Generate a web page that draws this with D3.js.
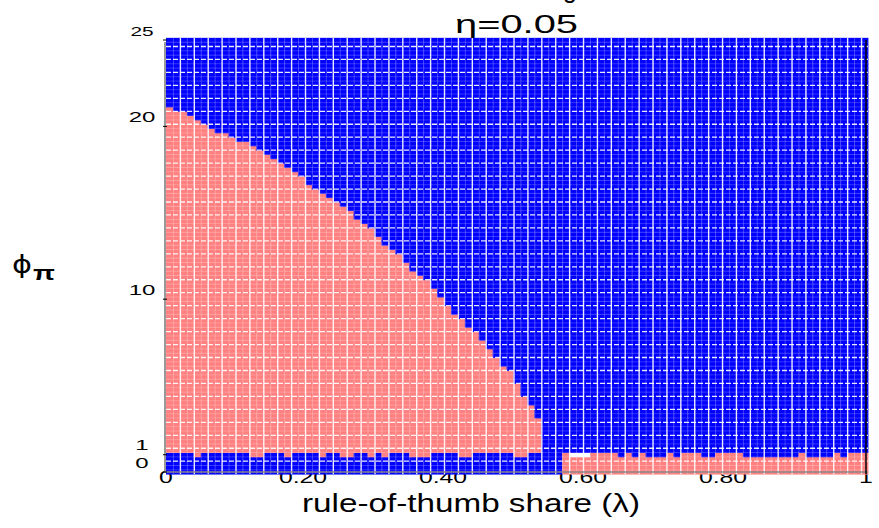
<!DOCTYPE html>
<html lang="en">
  <head>
    <meta charset="UTF-8" />
    <title>Determinacy region</title>
    <style>
      body { margin: 0; background: #fff; }
      text { font-family: "Liberation Sans", Arial, sans-serif; fill: #000; }
    </style>
  </head>
  <body>
    <div id="chart"></div>

<script src="https://cdn.jsdelivr.net/npm/d3@7/dist/d3.min.js"></script>
    <script>
    // grid of rule-of-thumb shares (columns)
    var lambdas = [0,0.01,0.02,0.03,0.04,0.05,0.06,0.07,0.08,0.09,
      0.10,0.11,0.12,0.13,0.14,0.15,0.16,0.17,0.18,0.19,
      0.20,0.21,0.22,0.23,0.24,0.25,0.26,0.27,0.28,0.29,
      0.30,0.31,0.32,0.33,0.34,0.35,0.36,0.37,0.38,0.39,
      0.40,0.41,0.42,0.43,0.44,0.45,0.46,0.47,0.48,0.49,
      0.50,0.51,0.52,0.53,0.54,0.55,0.56,0.57,0.58,0.59,
      0.60,0.61,0.62,0.63,0.64,0.65,0.66,0.67,0.68,0.69,
      0.70,0.71,0.72,0.73,0.74,0.75,0.76,0.77,0.78,0.79,
      0.80,0.81,0.82,0.83,0.84,0.85,0.86,0.87,0.88,0.89,
      0.90,0.91,0.92,0.93,0.94,0.95,0.96,0.97,0.98,0.99,1];

    // grid of phi_pi values (rows)
    var phis = [0,0.25,0.5,0.75,1,1.25,1.5,1.75,2,2.25,2.5,2.75,3,3.25,3.5,3.75,
      4,4.25,4.5,4.75,5,5.25,5.5,5.75,6,6.25,6.5,6.75,7,7.25,7.5,7.75,
      8,8.25,8.5,8.75,9,9.25,9.5,9.75,10,10.25,10.5,10.75,11,11.25,11.5,11.75,
      12,12.25,12.5,12.75,13,13.25,13.5,13.75,14,14.25,14.5,14.75,15,15.25,15.5,15.75,
      16,16.25,16.5,16.75,17,17.25,17.5,17.75,18,18.25,18.5,18.75,19,19.25,19.5,19.75,
      20,20.25,20.5,20.75,21,21.25,21.5,21.75,22,22.25,22.5,22.75,23,23.25,23.5,23.75,
      24,24.25,24.5,24.75,25];

    // upper edge of the pink region, lambda = 0 .. 0.53
    var pinkTop = [21.0,20.9,20.8,20.7,20.4,20.1,19.9,19.7,19.6,19.4,
      19.2,19.0,18.75,18.5,18.35,18.05,17.75,17.5,17.25,17.0,
      16.65,16.4,16.15,15.85,15.55,15.25,15.0,14.7,14.4,14.0,
      13.6,13.1,12.75,12.5,12.15,11.7,11.4,11.05,10.6,10.05,
      9.6,9.2,8.85,8.4,8.05,7.6,7.05,6.55,6.15,5.75,
      5.05,4.3,3.9,3.1];

    // top of the bottom band (phi_pi below ~1), one per lambda
    var bandTop = [1,1,1,1,0.75,1,1,1,1,1,
      1,1,0.75,0.75,1,1,1,0.75,1,1,
      1,1,0.75,1,1,0.75,0.75,1,1,0.75,
      1,0.75,1,1,1,0.75,0.75,0.75,1,1,
      1,1,0.75,0.75,1,1,1,1,1,1,
      0.75,0.75,1,1,1,1,1,1,1,1,
      1,1,1,1,1,0.75,1,0.75,1,0.75,
      0.75,0.75,1,0.75,1,1,1,0.75,0.75,1,
      1,1,1,0.75,0.75,0.75,0.75,0.75,0.75,0.75,
      0.75,1,0.75,0.75,0.75,0.75,1,0.75,1,1,
      1];
    var bandSwitch = 0.57;   // bottom band is blue left of this, pink right of it
    var blankCells = [[0.58,1],[0.59,1],[0.60,1]];

    var xTicks = [0,0.2,0.4,0.6,0.8,1];
    var xTickLabels = ["0","0.20","0.40","0.60","0.80","1"];
    var yTicks = [0,1,10,20,25];
    var yTickLabels = ["0","1","10","20","25"];

    var width = 879, height = 528;
    var blue = "#0000ff", pink = "#ff8080";

    var svg = d3.select("#chart").append("svg")
      .attr("width", width).attr("height", height);

    var xScale = d3.scaleLinear().domain([0,1]).range([166,866]);
    var xBand = d3.scaleBand().domain(lambdas).range([166,868]);
    var yScale = d3.scaleLinear().domain([0,25]).range([472,40]);
    var rowH = yScale(0) - yScale(0.25);

    function cellColor(k, j) {
      var l = lambdas[k], p = phis[j];
      for (var b = 0; b < blankCells.length; b++) {
        if (Math.abs(blankCells[b][0]-l) < 1e-6 && blankCells[b][1] == p) return "#ffffff";
      }
      if (p <= bandTop[k]) return l < bandSwitch - 1e-6 ? blue : pink;
      if (k < pinkTop.length && p <= pinkTop[k]) return pink;
      return blue;
    }

    // x tick labels sit partly under the cells
    svg.append("g").selectAll("text")
      .data(xTicks).enter().append("text")
      .attr("transform", function(d){ return "translate(" + (xScale(d) - (d>0 && d<1 ? 3 : 0)) + ",483) scale(1.55,1)"; })
      .attr("text-anchor", "middle")
      .style("font-size", "16px")
      .text(function(d,i){ return xTickLabels[i]; });

    var cells = [];
    lambdas.forEach(function(l,k){
      phis.forEach(function(p,j){
        cells.push({l:l, p:p, c:cellColor(k,j)});
      });
    });

    svg.append("g").selectAll("rect")
      .data(cells).enter().append("rect")
      .attr("x", function(d){ return xBand(d.l); })
      .attr("y", function(d){ return yScale(d.p) - rowH/2; })
      .attr("width", xBand.bandwidth() + 0.4)
      .attr("height", rowH + 0.4)
      .attr("fill", function(d){ return d.c; });

    // white marker seams
    var grid = svg.append("g").attr("stroke", "#fff");
    grid.selectAll("line.v")
      .data(lambdas.slice(1)).enter().append("line")
      .attr("x1", function(d){ return xBand(d) + 0.5; })
      .attr("x2", function(d){ return xBand(d) + 0.5; })
      .attr("y1", yScale(25) - rowH/2).attr("y2", yScale(0) + rowH/2)
      .attr("stroke-width", function(d,i){ return i % 2 ? 1.4 : 0.8; })
      .attr("stroke-opacity", function(d,i){ return i % 2 ? 0.9 : 0.3; });
    grid.selectAll("line.h")
      .data(phis.slice(1)).enter().append("line")
      .attr("x1", 166).attr("x2", 868)
      .attr("y1", function(d){ return yScale(d) + rowH/2; })
      .attr("y2", function(d){ return yScale(d) + rowH/2; })
      .attr("stroke-dasharray", function(d,i){ return i % 3 == 2 ? "5,2" : null; })
      .attr("stroke-width", function(d,i){ return i % 3 == 2 ? 1.3 : 0.8; })
      .attr("stroke-opacity", function(d,i){ return i % 3 == 2 ? 0.9 : 0.25; });

    // axes frame
    svg.append("line").attr("x1",165).attr("x2",165).attr("y1",yScale(25)+2).attr("y2",472)
      .attr("stroke","#777").attr("stroke-width",1.5);
    svg.append("line").attr("x1",165).attr("x2",868).attr("y1",472).attr("y2",472)
      .attr("stroke","#888").attr("stroke-width",1.5);
    svg.append("line").attr("x1",xScale(1)).attr("x2",xScale(1)).attr("y1",yScale(25)).attr("y2",474)
      .attr("stroke","#000").attr("stroke-width",1.5);

    svg.append("g").selectAll("line")
      .data(yTicks).enter().append("line")
      .attr("x1",163).attr("x2",167)
      .attr("y1", function(d){ return yScale(d); })
      .attr("y2", function(d){ return yScale(d); })
      .attr("stroke","#000");

    svg.append("g").selectAll("text")
      .data(yTicks).enter().append("text")
      .attr("transform", function(d){ return "translate(142," + (yScale(d) - 4.5) + ") scale(1.6,1)"; })
      .attr("text-anchor", "middle")
      .style("font-size", function(d){ return d == 25 ? "13px" : "15px"; })
      .text(function(d,i){ return yTickLabels[i]; });

    // titles (the first line of the title is cut off at the top edge)
    svg.append("text").attr("x", 563).attr("y", -2)
      .style("font-size", "25px").text("g");
    svg.append("text").attr("x", 455).attr("y", 33)
      .attr("textLength", 123).attr("lengthAdjust", "spacingAndGlyphs")
      .style("font-size", "25px").text("η=0.05");
    svg.append("text").attr("x", 302).attr("y", 512)
      .attr("textLength", 338).attr("lengthAdjust", "spacingAndGlyphs")
      .style("font-size", "26px").text("rule-of-thumb share (λ)");
    svg.append("text").attr("x", 12).attr("y", 273)
      .attr("textLength", 20).attr("lengthAdjust", "spacingAndGlyphs")
      .style("font-family", "'DejaVu Sans', sans-serif")
      .style("font-size", "24px").text("ϕ");
    svg.append("text").attr("x", 33).attr("y", 280)
      .attr("textLength", 22).attr("lengthAdjust", "spacingAndGlyphs")
      .style("font-size", "20px").style("font-weight", "bold").text("π");
    </script>
  </body>
</html>
